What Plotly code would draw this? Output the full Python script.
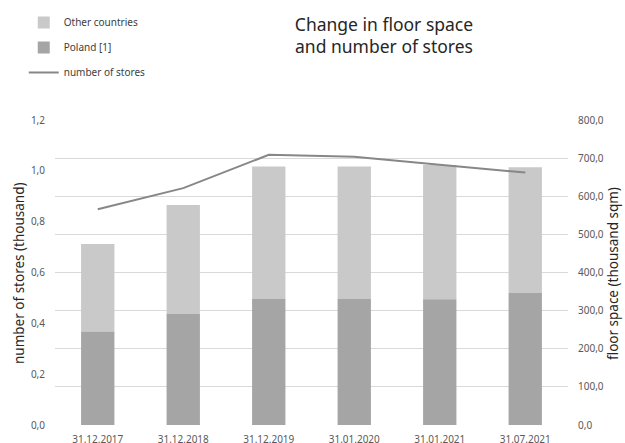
import plotly.graph_objects as go

categories = ["31.12.2017", "31.12.2018", "31.12.2019", "31.01.2020", "31.01.2021", "31.07.2021"]
poland = [245, 291, 331, 331, 330, 346]
total_floor = [475, 577, 678, 678, 682, 676]
other_countries = [t - p for t, p in zip(total_floor, poland)]
stores = [0.849, 0.932, 1.063, 1.055, 1.024, 0.993]

left_ticks = [0, 0.2, 0.4, 0.6, 0.8, 1.0, 1.2]
left_labels = ["0,0", "0,2", "0,4", "0,6", "0,8", "1,0", "1,2"]
right_ticks = [0, 100, 200, 300, 400, 500, 600, 700, 800]
right_labels = ["0,0", "100,0", "200,0", "300,0", "400,0", "500,0", "600,0", "700,0", "800,0"]

FONT = "Noto Sans"
TXT = "#595959"
DARK = "#262626"

fig = go.Figure()
fig.add_trace(go.Bar(x=categories, y=other_countries, base=poland, name="Other countries",
                     marker_color="#c9c9c9", marker_line_width=0, yaxis="y", legendgroup="a", legendrank=1))
fig.add_trace(go.Bar(x=categories, y=poland, name="Poland [1]", marker_color="#a5a5a5",
                     marker_line_width=0, yaxis="y", legendgroup="b", legendrank=2))
fig.add_trace(go.Scatter(x=categories, y=stores, name="number of stores", mode="lines",
                         line=dict(color="#878787", width=2), yaxis="y2", legendgroup="c", legendrank=3))

fig.update_layout(
    width=625, height=443,
    margin=dict(l=55, r=57, t=120, b=18, autoexpand=False),
    paper_bgcolor="white", plot_bgcolor="white",
    barmode="overlay", bargap=0.61,
    font=dict(family=FONT, size=10, color=TXT),
    title=dict(text="Change in floor space<br>and number of stores", x=384 / 625, xanchor="center",
               y=1 - 30.5 / 443, yanchor="middle", xref="container", yref="container",
               font=dict(family=FONT, size=17.5, color=DARK)),
    legend=dict(xref="container", yref="container", x=0.038, xanchor="left",
                y=1 - 8 / 443, yanchor="top", traceorder="grouped", tracegroupgap=6,
                font=dict(family=FONT, size=10, color="#404040"), bgcolor="rgba(0,0,0,0)"),
    xaxis=dict(showgrid=False, showline=False, ticks="", ticklabelstandoff=7,
               tickfont=dict(size=10, color=TXT)),
    yaxis=dict(side="right", range=[0, 800], tickvals=right_ticks, ticktext=right_labels,
               showgrid=True, gridcolor="#d9d9d9", gridwidth=1, zeroline=False, showline=False,
               ticks="", ticklabelstandoff=9, tickfont=dict(size=10, color=TXT)),
    yaxis2=dict(side="left", overlaying="y", range=[0, 1.2], tickvals=left_ticks, ticktext=left_labels,
                showgrid=False, zeroline=False, showline=False, ticks="", ticklabelstandoff=9,
                tickfont=dict(size=10, color=TXT)),
    annotations=[
        dict(text="number of stores (thousand)", textangle=-90, xref="paper", yref="paper",
             x=-55 / 513, y=(425 - 273) / 305, xanchor="left", yanchor="middle", xshift=8,
             showarrow=False, font=dict(family=FONT, size=13.5, color=DARK)),
        dict(text="floor space (thousand sqm)", textangle=-90, xref="paper", yref="paper",
             x=1 + 45 / 513, y=(425 - 274) / 305, xanchor="center", yanchor="middle",
             showarrow=False, font=dict(family=FONT, size=13.5, color=DARK)),
    ],
)

fig.write_html("out.html")
